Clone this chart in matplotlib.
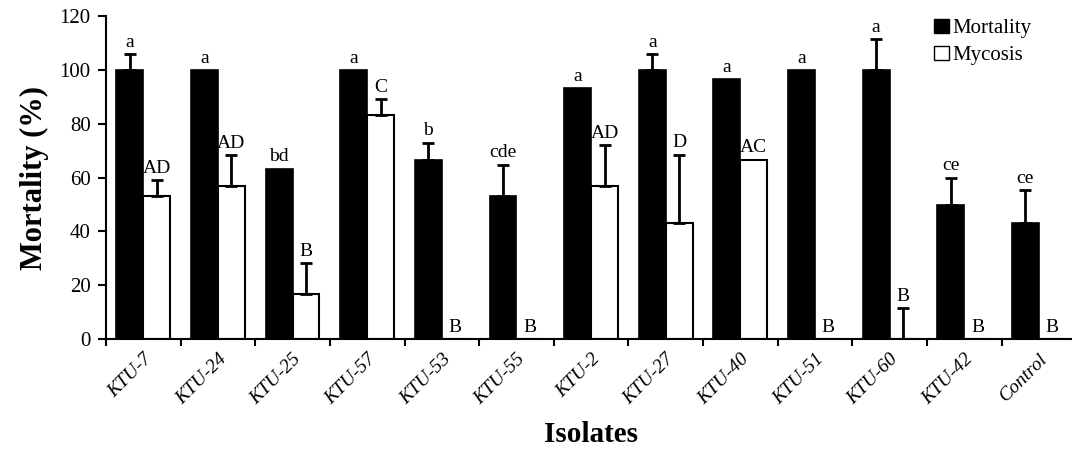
import numpy as np
import matplotlib.pyplot as plt
from matplotlib.patches import Patch

plt.rcParams['font.family'] = ['Liberation Serif', 'DejaVu Serif']

isolates = ['KTU-7', 'KTU-24', 'KTU-25', 'KTU-57', 'KTU-53', 'KTU-55', 'KTU-2',
            'KTU-27', 'KTU-40', 'KTU-51', 'KTU-60', 'KTU-42', 'Control']
mortality = [100, 100, 63.3, 100, 66.7, 53.3, 93.3, 100, 96.7, 100, 100, 50, 43.3]
mortality_err = [5.8, 0, 0, 0, 6.3, 11.5, 0, 5.8, 0, 0, 11.5, 10, 12]
mycosis = [53.3, 56.7, 16.7, 83.3, 0, 0, 56.7, 43.3, 66.7, 0, 0, 0, 0]
mycosis_err = [5.8, 11.5, 11.5, 5.8, 0, 0, 15.3, 25.2, 0, 0, 11.5, 0, 0]
mort_letters = ['a', 'a', 'bd', 'a', 'b', 'cde', 'a', 'a', 'a', 'a', 'a', 'ce', 'ce']
myc_letters = ['AD', 'AD', 'B', 'C', 'B', 'B', 'AD', 'D', 'AC', 'B', 'B', 'B', 'B']

fig = plt.figure(figsize=(10.72, 4.51), dpi=100)
ax = fig.add_axes([0.0989, 0.248, 0.905, 0.7165])

x = np.arange(len(isolates)) + 0.5
w = 0.36
xm = x - w / 2
xc = x + w / 2

ax.bar(xm, mortality, w, color='black', edgecolor='black', linewidth=1.2, zorder=2)
ax.bar(xc, mycosis, w, color='white', edgecolor='black', linewidth=1.5, zorder=2)

# only the upper half of the error bars is drawn
for xs, vals, errs in [(xm, mortality, mortality_err), (xc, mycosis, mycosis_err)]:
    for xi, v, e in zip(xs, vals, errs):
        if e > 0:
            ax.errorbar(xi, v, yerr=[[0], [e]], fmt='none', ecolor='black',
                        elinewidth=2, capsize=4, capthick=2, zorder=3)

for xi, v, e, t in zip(xm, mortality, mortality_err, mort_letters):
    ax.text(xi, v + e + 1.2, t, ha='center', va='bottom', fontsize=14)
for xi, v, e, t in zip(xc, mycosis, mycosis_err, myc_letters):
    ax.text(xi, v + e + 1.2, t, ha='center', va='bottom', fontsize=14)

ax.set_xlim(0, 13)
ax.set_ylim(0, 120)
ax.set_yticks(np.arange(0, 121, 20))
ax.set_xticks(x)
ax.set_xticklabels(isolates, rotation=45, ha='right', rotation_mode='anchor',
                   fontsize=14, style='italic')
ax.set_xticks(np.arange(0, 13), minor=True)
ax.tick_params(axis='x', which='major', length=0, pad=8)
ax.tick_params(axis='x', which='minor', length=5, width=1.5, direction='out')
ax.tick_params(axis='y', length=6, width=1.5, direction='out', labelsize=15, pad=5)

for s in ['top', 'right']:
    ax.spines[s].set_visible(False)
for s in ['left', 'bottom']:
    ax.spines[s].set_linewidth(1.5)

ax.set_ylabel('Mortality (%)', fontsize=22, fontweight='bold', labelpad=8)
ax.set_xlabel('Isolates', fontsize=21, fontweight='bold', labelpad=10)

handles = [Patch(facecolor='black', edgecolor='black', label='Mortality'),
           Patch(facecolor='white', edgecolor='black', label='Mycosis')]
fig.legend(handles=handles, loc='upper right', bbox_to_anchor=(0.98, 1.0),
           frameon=False, fontsize=15, handlelength=0.7, handleheight=0.7,
           handletextpad=0.2, labelspacing=0.35)

fig.savefig('out.png', dpi=100)
